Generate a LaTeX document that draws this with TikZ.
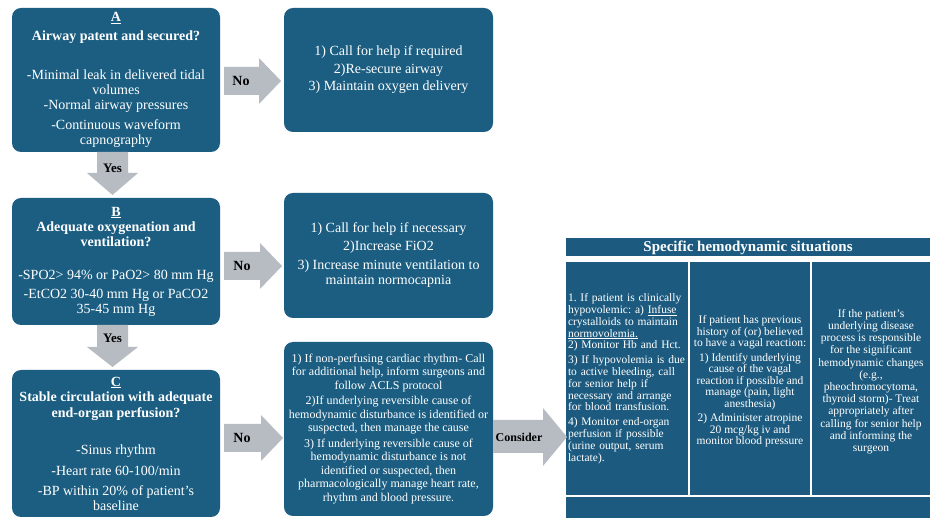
\documentclass[tikz,border=0pt]{standalone}
\usepackage{fontspec}
\setmainfont{Liberation Serif}
\definecolor{boxblue}{HTML}{1B5E82}
\definecolor{tblue}{HTML}{1C5B7F}
\definecolor{arrowgray}{HTML}{B7BCC3}
\tikzset{
  bluebox/.style={fill=boxblue, rounded corners=9pt, text=white, align=center, inner sep=0pt, font=\fontsize{14}{15}\selectfont},
  smallbox/.style={bluebox, font=\fontsize{12}{13.5}\selectfont},
  cell/.style={fill=tblue, text=white, inner sep=0pt, font=\fontsize{11.5}{11.8}\selectfont},
  arrowfill/.style={fill=arrowgray},
  lbl/.style={text=black, inner sep=0pt, font=\bfseries\fontsize{14}{14}\selectfont}
}
\begin{document}
\frenchspacing
\begin{tikzpicture}[x=1pt,y=-1pt]
\fill[white] (0,0) rectangle (930,518);
\useasboundingbox (0,0) rectangle (930,518);

% Left column boxes
\node[bluebox, minimum width=208pt, minimum height=144pt] (A) at (116,80) {%
\underline{\textbf{A}}\\[4pt]
\textbf{Airway patent and secured?}\\[24pt]
-Minimal leak in delivered tidal\\
volumes\\
-Normal airway pressures\\[5pt]
-Continuous waveform\\
capnography};

\node[bluebox, minimum width=208pt, minimum height=127pt] (B) at (116,261.5) {%
\underline{\textbf{B}}\\
\textbf{Adequate oxygenation and}\\
\textbf{ventilation?}\\[18pt]
-SPO2> 94\% or PaO2> 80 mm Hg\\[4pt]
-EtCO2 30-40 mm Hg or PaCO2\\
35-45 mm Hg};

\node[bluebox, minimum width=208pt, minimum height=147pt] (C) at (116,443.5) {%
\underline{\textbf{C}}\\
\textbf{Stable circulation with adequate}\\[1pt]
\textbf{end-organ perfusion?}\\[22pt]
-Sinus rhythm\\[6pt]
-Heart rate 60-100/min\\[5pt]
-BP within 20\% of patient's\\
baseline};

% Right column boxes
\node[bluebox, minimum width=209pt, minimum height=124pt] (R1) at (388.5,70) {%
1) Call for help if required\\[3pt]
2)Re-secure airway\\[2pt]
3) Maintain oxygen delivery};

\node[bluebox, minimum width=209pt, minimum height=125pt] (R2) at (388.5,255.5) {%
1) Call for help if necessary\\[3pt]
2)Increase FiO2\\[4pt]
3) Increase minute ventilation to\\
maintain normocapnia};

\node[smallbox, minimum width=209pt, minimum height=174pt] (R3) at (388.5,429) {%
1) If non-perfusing cardiac rhythm- Call\\
for additional help, inform surgeons and\\
follow ACLS protocol\\[2pt]
2)If underlying reversible cause of\\
hemodynamic disturbance is identified or\\
suspected, then manage the cause\\[2pt]
3) If underlying reversible cause of\\
hemodynamic disturbance is not\\
identified or suspected, then\\
pharmacologically manage heart rate,\\
rhythm and blood pressure.};

% Table
\node[cell, minimum width=364pt, minimum height=18pt, font=\bfseries\fontsize{15}{15}\selectfont] (th) at (748,247.5) {Specific hemodynamic situations};

\node[cell, minimum width=122pt, minimum height=233pt, text width=118pt, align=left] (c1) at (627,378.5) {%
1. If patient is clinically\\
hypovolemic: a) \underline{Infuse}\\
crystalloids to maintain\\
\underline{normovolemia.}\\
2) Monitor Hb and Hct.\\[3pt]
3) If hypovolemia is due\\
to active bleeding, call\\
for senior help if\\
necessary and arrange\\
for blood transfusion.\\[3pt]
4) Monitor end-organ\\
perfusion if possible\\
(urine output, serum\\
lactate).};

\node[cell, minimum width=120pt, minimum height=233pt, align=center, font=\fontsize{11.5}{11.5}\selectfont] (c2) at (750,378.5) {%
\rule{0pt}{8pt}\\[-6pt]
If patient has previous\\
history of (or) believed\\
to have a vagal reaction:\\[3pt]
1) Identify underlying\\
cause of the vagal\\
reaction if possible and\\
manage (pain, light\\
anesthesia)\\[3pt]
2) Administer atropine\\
20 mcg/kg iv and\\
monitor blood pressure};

\node[cell, minimum width=118pt, minimum height=233pt, align=center, font=\fontsize{11.5}{12.2}\selectfont] (c3) at (871,378.5) {%
\rule{0pt}{8pt}\\[-6pt]
If the patient's\\
underlying disease\\
process is responsible\\
for the significant\\
hemodynamic changes\\
(e.g.,\\
pheochromocytoma,\\
thyroid storm)- Treat\\
appropriately after\\
calling for senior help\\
and informing the\\
surgeon};

\node[cell, minimum width=364pt, minimum height=21pt] (tb) at (748,507.5) {};

% Block arrows: No (right)
\fill[arrowfill] (224,67) -- (259,67) -- (259,58) -- (281,81) -- (259,104) -- (259,95) -- (224,95) -- cycle;
\node[lbl] (no1) at (241,81) {No};

\fill[arrowfill] (224,252) -- (260,252) -- (260,243) -- (282,266) -- (260,289) -- (260,280) -- (224,280) -- cycle;
\node[lbl] (no2) at (242,266) {No};

\fill[arrowfill] (224,424) -- (261,424) -- (261,415) -- (283,438) -- (261,461) -- (261,452) -- (224,452) -- cycle;
\node[lbl] (no3) at (242,438) {No};

% Consider arrow
\fill[arrowfill] (R3.east |- 0,420) -- (543,420) -- (543,408) -- (567,437) -- (543,466) -- (543,453) -- (R3.east |- 0,453) -- cycle;
\node[lbl, font=\bfseries\fontsize{12}{12}\selectfont] (cons) at (519,437) {Consider};

% Yes arrows (down)
\fill[arrowfill] (97,152) -- (128,152) -- (128,173) -- (138,173) -- (112.5,195) -- (87,173) -- (97,173) -- cycle;
\node[lbl, font=\bfseries\fontsize{13}{13}\selectfont] (yes1) at (112.5,168) {Yes};

\fill[arrowfill] (97,325) -- (128,325) -- (128,347) -- (138,347) -- (112.5,367) -- (87,347) -- (97,347) -- cycle;
\node[lbl, font=\bfseries\fontsize{13}{13}\selectfont] (yes2) at (112.5,338) {Yes};
\end{tikzpicture}
\end{document}
